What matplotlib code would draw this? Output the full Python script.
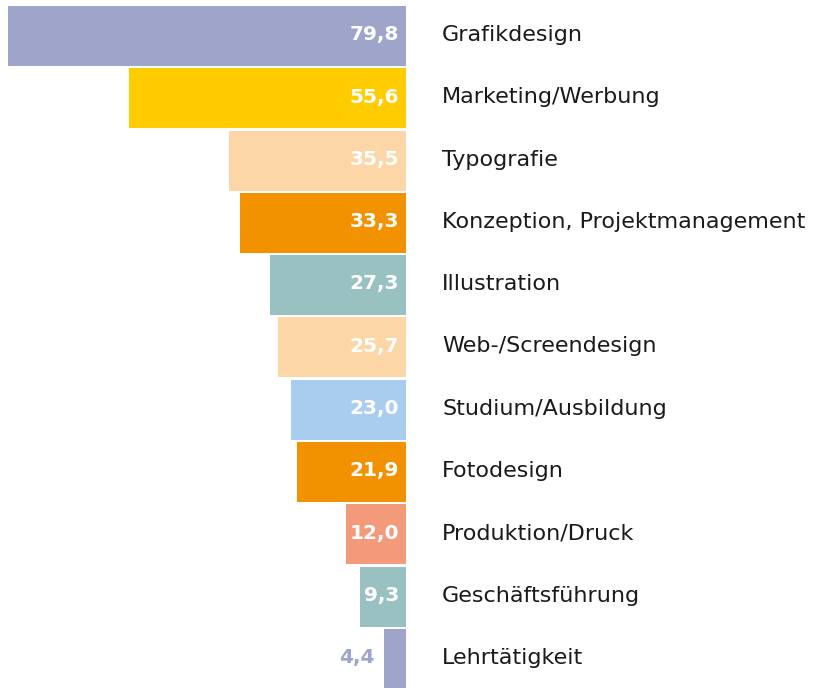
import matplotlib.pyplot as plt

categories = ["Grafikdesign", "Marketing/Werbung", "Typografie",
              "Konzeption, Projektmanagement", "Illustration",
              "Web-/Screendesign", "Studium/Ausbildung", "Fotodesign",
              "Produktion/Druck", "Geschäftsführung", "Lehrtätigkeit"]
values = [79.8, 55.6, 35.5, 33.3, 27.3, 25.7, 23.0, 21.9, 12.0, 9.3, 4.4]
colors = ["#9FA4CB", "#FFCC00", "#FCD6A6", "#F39200", "#99C1C2",
          "#FCD6A6", "#A9CDEF", "#F39200", "#F39A7B", "#99C1C2", "#9FA4CB"]

plt.rcParams['font.family'] = ['DejaVu Sans']

W, H = 821, 688
fig = plt.figure(figsize=(W / 100, H / 100), dpi=100)
zero_px = 406
ax = fig.add_axes([0, 0, zero_px / W, 1])

px_per_unit = 398 / 79.8
pitch = 62.3
y0 = 36
ax.set_xlim(zero_px / px_per_unit, 0)
ax.set_ylim((H - y0) / pitch, -y0 / pitch)
ax.axis('off')

ypos = list(range(len(values)))
ax.barh(ypos, values, height=60 / pitch, color=colors)

for i, (v, c, lab) in enumerate(zip(values, colors, categories)):
    txt = f"{v:.1f}".replace(".", ",")
    if v > 8:
        ax.text(1.4, i - 0.02, txt, ha='right', va='center', color='white',
                fontsize=14.5, fontweight='bold')
    else:
        ax.text(v + 1.9, i - 0.02, txt, ha='right', va='center', color=c,
                fontsize=14.5, fontweight='bold')
    fig.text(442 / W, 1 - (y0 - 1 + i * pitch) / H, lab, ha='left',
             va='center', fontsize=16, color='#1a1a1a')

fig.savefig("out.png", dpi=100)
